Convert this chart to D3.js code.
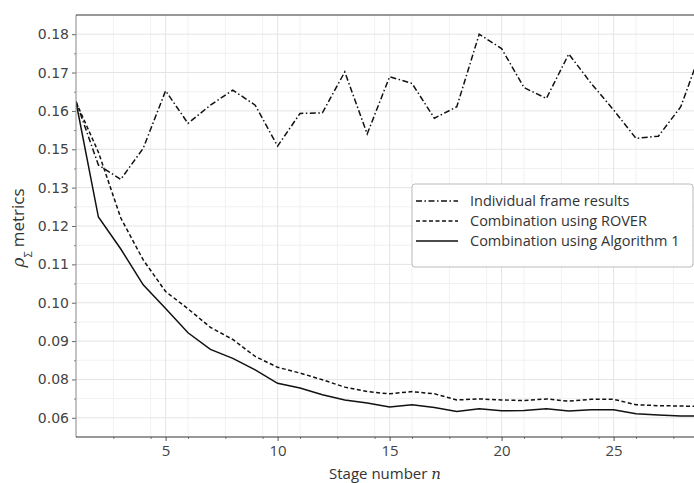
<!DOCTYPE html>
<html>
<head>
<meta charset="utf-8">
<script src="https://cdn.jsdelivr.net/npm/d3@7"></script>
<style>
  body { margin: 0; background: #fff; }
  svg { display: block; }
  .ytick text { font-family: "DejaVu Sans", sans-serif; font-size: 14px; fill: #444; }
  .xtick text { font-family: "Open Sans", sans-serif; font-size: 15px; fill: #444; }
  .legend text { font-family: "Open Sans", sans-serif; font-size: 14.5px; fill: #333; }
</style>
</head>
<body>
<svg id="chart" width="694" height="483"></svg>
<script>
// stage numbers
const stages = [1, 2, 3, 4, 5, 6, 7, 8, 9, 10, 11, 12, 13, 14, 15, 16, 17, 18, 19, 20,
  21, 22, 23, 24, 25, 26, 27, 28, 29];

// Individual frame results (dash-dot)
const individual = [0.1590, 0.1391, 0.1346, 0.1443, 0.1623, 0.1521, 0.1578, 0.1625, 0.1578, 0.1450,
  0.1552, 0.1554, 0.1682, 0.1488, 0.1667, 0.1646, 0.1537, 0.1573, 0.1800, 0.1755,
  0.1633, 0.1599, 0.1738, 0.1646, 0.1563, 0.1474, 0.1481, 0.1573, 0.1766];

// Combination using ROVER (dashed)
const rover = [0.1588, 0.1431, 0.1225, 0.1094, 0.0995, 0.0941, 0.0883, 0.0845, 0.0792, 0.0758,
  0.0740, 0.0719, 0.0696, 0.0682, 0.0675, 0.0682, 0.0675, 0.0656, 0.0659, 0.0656,
  0.0654, 0.0659, 0.0652, 0.0658, 0.0658, 0.0641, 0.0638, 0.0637, 0.0635];

// Combination using Algorithm 1 (solid)
const algo1 = [0.1588, 0.1228, 0.1128, 0.1016, 0.0942, 0.0866, 0.0814, 0.0786, 0.0750, 0.0708,
  0.0693, 0.0672, 0.0656, 0.0646, 0.0634, 0.0641, 0.0632, 0.0620, 0.0628, 0.0622,
  0.0623, 0.0628, 0.0621, 0.0625, 0.0625, 0.0613, 0.0609, 0.0606, 0.0605];

// tick values and the labels printed beside them
const yTicks = [0.06, 0.072, 0.084, 0.096, 0.108, 0.12, 0.132, 0.144, 0.156, 0.168, 0.18];
const yTickLabels = ["0.06", "0.08", "0.09", "0.10", "0.11", "0.12", "0.13", "0.15", "0.16", "0.17", "0.18"];
const xTicks = [5, 10, 15, 20, 25];

const series = [
  { name: "Individual frame results", values: individual, dash: "6,2.5,1.5,2.5" },
  { name: "Combination using ROVER", values: rover, dash: "4,2.5" },
  { name: "Combination using Algorithm 1", values: algo1, dash: null }
];

const svg = d3.select('#chart');
const margin = { top: 15, left: 76, bottom: 46 };
const plotH = 483 - margin.top - margin.bottom;

const x = d3.scaleLinear().domain([1, 29.5]).range([margin.left, margin.left + 28.5 * 22.4]);
const y = d3.scaleLinear().domain([0.054, 0.186]).range([margin.top + plotH, margin.top]);

const [x0, x1] = x.range();
const [yb, yt] = y.range();

// minor tick positions
const xMinor = d3.range(1 + 5 / 3, 29.5, 5 / 3).filter(v => xTicks.every(t => Math.abs(t - v) > 0.01));
const yMinor = yTicks.slice(0, -1).map((v, i) => (v + yTicks[i + 1]) / 2);

svg.append('defs').append('clipPath').attr('id', 'plot-clip')
  .append('rect').attr('x', x0).attr('y', yt).attr('width', x1 - x0).attr('height', yb - yt);

// grid
const grid = svg.append('g');
grid.selectAll('.gxm').data(xMinor).enter().append('line')
  .attr('x1', d => x(d)).attr('x2', d => x(d)).attr('y1', yt).attr('y2', yb)
  .attr('stroke', '#f1f1f1').attr('stroke-width', 1);
grid.selectAll('.gym').data(yMinor).enter().append('line')
  .attr('x1', x0).attr('x2', x1).attr('y1', d => y(d)).attr('y2', d => y(d))
  .attr('stroke', '#f1f1f1').attr('stroke-width', 1);
grid.selectAll('.gx').data(xTicks).enter().append('line')
  .attr('x1', d => x(d)).attr('x2', d => x(d)).attr('y1', yt).attr('y2', yb)
  .attr('stroke', '#e4e4e4').attr('stroke-width', 1);
grid.selectAll('.gy').data(yTicks).enter().append('line')
  .attr('x1', x0).attr('x2', x1).attr('y1', d => y(d)).attr('y2', d => y(d))
  .attr('stroke', '#e4e4e4').attr('stroke-width', 1);

// lines
const line = d3.line()
  .x((d, i) => x(stages[i]))
  .y(d => y(d));

const lines = svg.append('g').attr('clip-path', 'url(#plot-clip)');
series.forEach(s => {
  lines.append('path')
    .datum(s.values)
    .attr('d', line)
    .attr('fill', 'none')
    .attr('stroke', '#111')
    .attr('stroke-width', 1.5)
    .attr('stroke-dasharray', s.dash);
});

// axes
const yAxis = d3.axisLeft(y)
  .tickValues(yTicks)
  .tickFormat((d, i) => yTickLabels[i])
  .tickSize(4).tickPadding(3);
svg.append('g').attr('class', 'ytick')
  .attr('transform', `translate(${x0},0)`)
  .call(yAxis)
  .call(g => g.select('.domain').remove())
  .call(g => g.selectAll('line').attr('stroke', '#666'));

svg.append('g')
  .attr('transform', `translate(${x0},0)`)
  .call(d3.axisLeft(y).tickValues(yMinor).tickFormat('').tickSize(2))
  .call(g => g.select('.domain').remove())
  .call(g => g.selectAll('line').attr('stroke', '#888'));

const xAxis = d3.axisBottom(x)
  .tickValues(xTicks)
  .tickFormat(d3.format('d'))
  .tickSize(4).tickPadding(4);
svg.append('g').attr('class', 'xtick')
  .attr('transform', `translate(0,${yb})`)
  .call(xAxis)
  .call(g => g.select('.domain').remove())
  .call(g => g.selectAll('line').attr('stroke', '#555'));

svg.append('g')
  .attr('transform', `translate(0,${yb})`)
  .call(d3.axisBottom(x).tickValues(xMinor).tickFormat('').tickSize(2))
  .call(g => g.select('.domain').remove())
  .call(g => g.selectAll('line').attr('stroke', '#888'));

// spines
svg.append('line').attr('x1', x0).attr('x2', x0).attr('y1', yt).attr('y2', yb)
  .attr('stroke', '#888').attr('stroke-width', 1);
svg.append('line').attr('x1', x0).attr('x2', 694).attr('y1', yb).attr('y2', yb)
  .attr('stroke', '#333').attr('stroke-width', 1.2);
svg.append('line').attr('x1', x0).attr('x2', 694).attr('y1', yt).attr('y2', yt)
  .attr('stroke', '#333').attr('stroke-width', 1.2);

// axis labels
svg.append('text')
  .attr('x', 385).attr('y', 479)
  .attr('text-anchor', 'middle')
  .style('font-family', '"Open Sans", sans-serif').style('font-size', '15px').style('fill', '#333')
  .call(t => {
    t.append('tspan').text('Stage number ');
    t.append('tspan').style('font-style', 'italic').style('font-family', 'DejaVu Serif, serif').text('n');
  });

svg.append('text')
  .attr('transform', 'translate(24,228) rotate(-90)')
  .attr('text-anchor', 'middle')
  .style('font-family', '"Open Sans", sans-serif').style('font-size', '17px').style('fill', '#333')
  .call(t => {
    t.append('tspan').style('font-style', 'italic').style('font-family', 'DejaVu Serif, serif').text('ρ');
    t.append('tspan').attr('baseline-shift', 'sub').style('font-size', '11px').text('Σ');
    t.append('tspan').attr('dx', 4).text('metrics');
  });

// legend
const legend = svg.append('g').attr('class', 'legend').attr('transform', 'translate(412,184)');
legend.append('rect')
  .attr('width', 281).attr('height', 83).attr('rx', 3)
  .attr('fill', '#fff').attr('fill-opacity', 0.9)
  .attr('stroke', '#bbb').attr('stroke-width', 1);
series.forEach((s, i) => {
  const row = legend.append('g').attr('transform', `translate(0,${17 + i * 20})`);
  row.append('line')
    .attr('x1', 4).attr('x2', 46)
    .attr('stroke', '#111').attr('stroke-width', 1.5)
    .attr('stroke-dasharray', s.dash);
  row.append('text').attr('x', 58).attr('y', 5).text(s.name);
});
</script>
</body>
</html>
